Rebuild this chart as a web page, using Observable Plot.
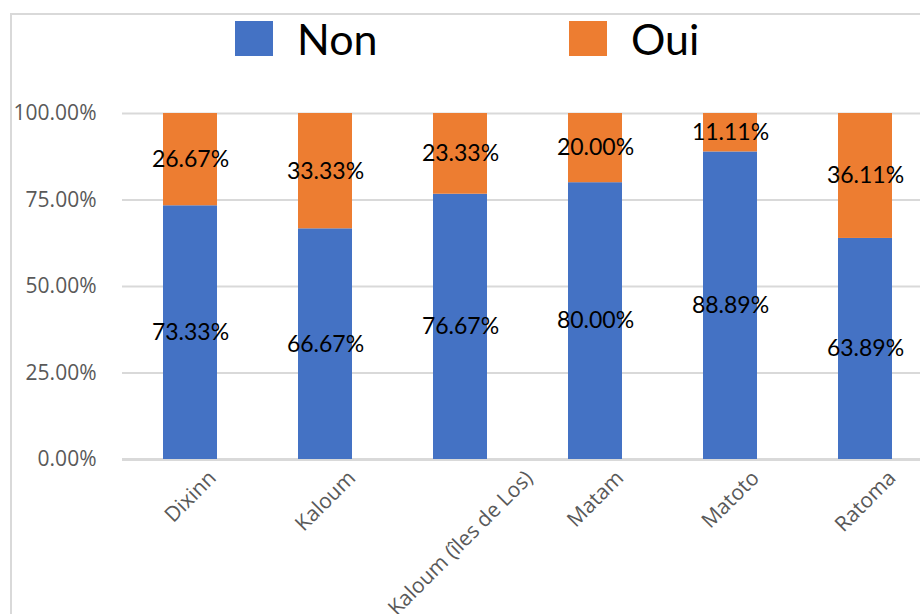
<!DOCTYPE html>
<html>
<head>
<meta charset="utf-8">
<script src="https://cdn.jsdelivr.net/npm/d3@7"></script>
<script src="https://cdn.jsdelivr.net/npm/@observablehq/plot@0.6"></script>
<style>
  html, body { margin: 0; padding: 0; background: #fff; overflow: hidden; width: 920px; height: 614px; }
  #wrap { position: relative; width: 920px; height: 614px; font-family: Lato, sans-serif; }
  #frame { position: absolute; left: 10px; top: 13px; width: 940px; height: 640px; border: 2px solid #d9d9d9; pointer-events: none; box-sizing: border-box; }
  #legend { position: relative; height: 80px; }
  #legend .row { position: absolute; left: 235px; top: 21px; display: flex; height: 35px; align-items: center; }
  #legend .item { display: flex; align-items: center; width: 334px; }
  #legend .sw { width: 38px; height: 35px; margin-right: 24px; }
  #legend .lab { font-size: 43px; color: #000; line-height: 35px; }
</style>
</head>
<body>
<div id="wrap">
  <div id="frame"></div>
  <div id="legend"><div class="row"></div></div>
  <div id="chart"></div>
</div>
<script>
const categories = ["Dixinn", "Kaloum", "Kaloum (îles de Los)", "Matam", "Matoto", "Ratoma"];
const series = ["Non", "Oui"];
const nonValues = [73.33, 66.67, 76.67, 80.00, 88.89, 63.89];
const ouiValues = [26.67, 33.33, 23.33, 20.00, 11.11, 36.11];
const yTicks = [0, 25, 50, 75, 100];
const colors = ["#4472C4", "#ED7D31"];

const data = [];
series.forEach((s, si) => {
  const vals = si === 0 ? nonValues : ouiValues;
  categories.forEach((c, i) => data.push({category: c, series: s, value: vals[i]}));
});

// legend
const row = document.querySelector("#legend .row");
series.forEach((s, i) => {
  const item = document.createElement("div");
  item.className = "item";
  const sw = document.createElement("div");
  sw.className = "sw";
  sw.style.background = colors[i];
  const lab = document.createElement("div");
  lab.className = "lab";
  lab.textContent = s;
  item.appendChild(sw);
  item.appendChild(lab);
  row.appendChild(item);
});

const fmt = d => d.toFixed(2) + "%";
const xFontSize = 21;

// measure category labels so rotated labels are centred on their category (Excel style)
const ctx = document.createElement("canvas").getContext("2d");
ctx.font = `${xFontSize}px "Open Sans"`;
const xAxes = categories.map(c => {
  const w = ctx.measureText(c).width;
  return Plot.axisX([c], {
    tickRotate: -45, tickSize: 0, tickPadding: 0,
    fontSize: xFontSize, color: "#595959",
    dx: 0.354 * w, dy: 15, label: null
  });
});

const chart = Plot.plot({
  width: 920,
  height: 534,
  marginTop: 33,
  marginBottom: 155,
  marginLeft: 122,
  marginRight: -12,
  style: {fontFamily: "'Open Sans', sans-serif", background: "transparent"},
  x: {domain: categories, paddingInner: 0.6, paddingOuter: 0.3, label: null},
  y: {domain: [0, 100], label: null},
  color: {domain: series, range: colors},
  marks: [
    Plot.gridY(yTicks, {stroke: "#d9d9d9", strokeOpacity: 1, strokeWidth: 2}),
    Plot.ruleY([0], {stroke: "#d9d9d9", strokeWidth: 3}),
    Plot.barY(data, Plot.stackY({x: "category", y: "value", fill: "series"})),
    Plot.text(data, Plot.stackY({x: "category", y: "value", z: "series", text: d => fmt(d.value), fontSize: 23, fontFamily: "Lato", fill: "#000"})),
    Plot.axisY(yTicks, {tickSize: 0, tickPadding: 26, fontSize: 21, color: "#595959", tickFormat: fmt, label: null}),
    ...xAxes
  ]
});
document.getElementById("chart").appendChild(chart);
</script>
</body>
</html>
